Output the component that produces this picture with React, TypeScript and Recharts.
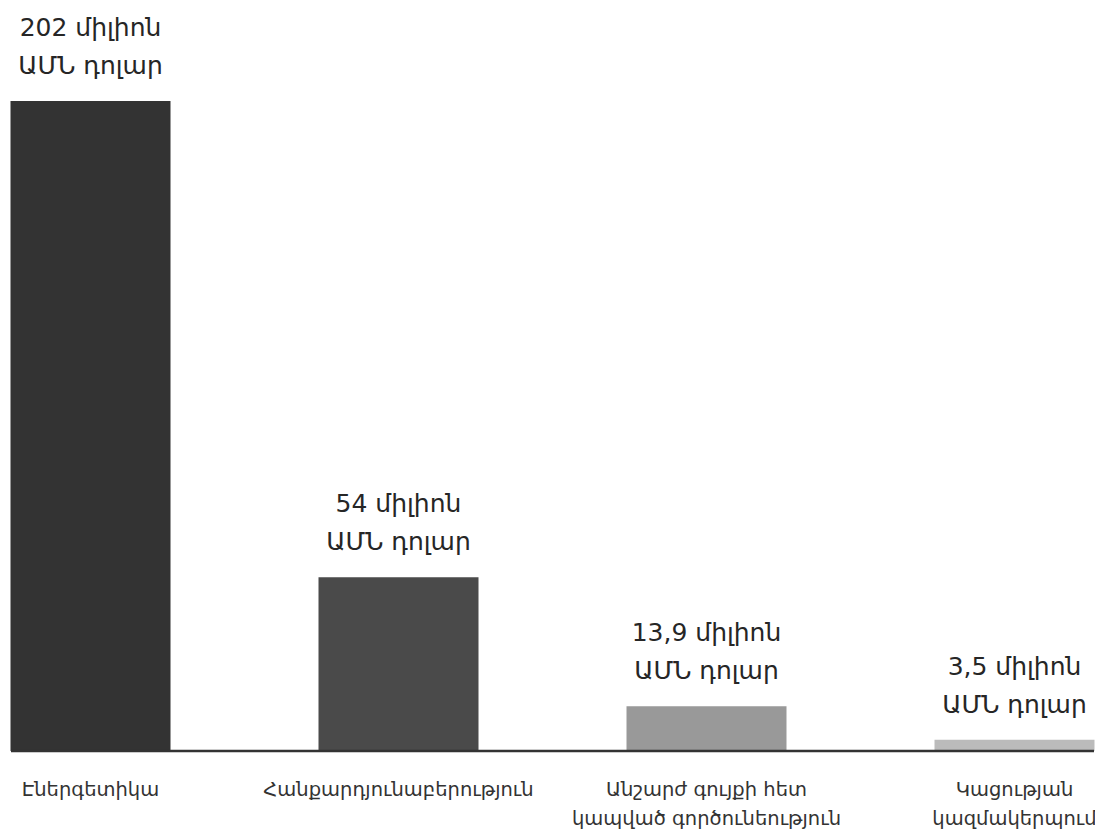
import React from 'react';
import { BarChart, Bar, XAxis, YAxis, Cell, LabelList } from 'recharts';

const categories = [
  'Էներգետիկա',
  'Հանքարդյունաբերություն',
  'Անշարժ գույքի հետ\nկապված գործունեություն',
  'Կացության\nկազմակերպում',
];
const values = [202, 54, 13.9, 3.5];
const barColors = ['#333333', '#4a4a4a', '#999999', '#bbbbbb'];
const unitWord = 'միլիոն';
const currencyLine = 'ԱՄՆ դոլար';

const data = categories.map((name, i) => ({ name, value: values[i] }));

const FONT = '"DejaVu Sans", "Noto Sans", sans-serif';

const CategoryTick = (props: any) => {
  const { x, y, payload } = props;
  const lines = String(payload.value).split('\n');
  return (
    <text x={x} y={y} textAnchor="middle" fill="#333333" fontSize={19.5} fontFamily={FONT}>
      {lines.map((l: string, i: number) => (
        <tspan key={i} x={x} y={y + 45 + i * 29}>
          {l}
        </tspan>
      ))}
    </text>
  );
};

const ValueLabel = (props: any) => {
  const { x, y, width, value } = props;
  const cx = x + width / 2;
  const txt = String(value).replace('.', ',') + ' ' + unitWord;
  return (
    <text x={cx} y={y} textAnchor="middle" fill="#262626" fontSize={25} fontFamily={FONT}>
      <tspan x={cx} y={y - 65}>{txt}</tspan>
      <tspan x={cx} y={y - 27}>{currencyLine}</tspan>
    </text>
  );
};

export default function App() {
  return (
    <div style={{ width: 1095, height: 823, background: '#ffffff' }}>
      <BarChart
        width={1095}
        height={823}
        data={data}
        margin={{ top: 93, right: 9, bottom: 0, left: 3 }}
      >
        <XAxis
          dataKey="name"
          height={80}
          padding={{ left: -74.5, right: -74.5 }}
          axisLine={{ stroke: '#333333', strokeWidth: 2.5 }}
          tickLine={false}
          tickSize={0}
          tickMargin={0}
          interval={0}
          tick={<CategoryTick />}
        />
        <YAxis hide domain={[0, 202]} allowDataOverflow type="number" />
        <Bar dataKey="value" barSize={160} isAnimationActive={false}>
          {data.map((d, i) => (
            <Cell key={d.name} fill={barColors[i]} />
          ))}
          <LabelList dataKey="value" content={<ValueLabel />} />
        </Bar>
      </BarChart>
    </div>
  );
}
